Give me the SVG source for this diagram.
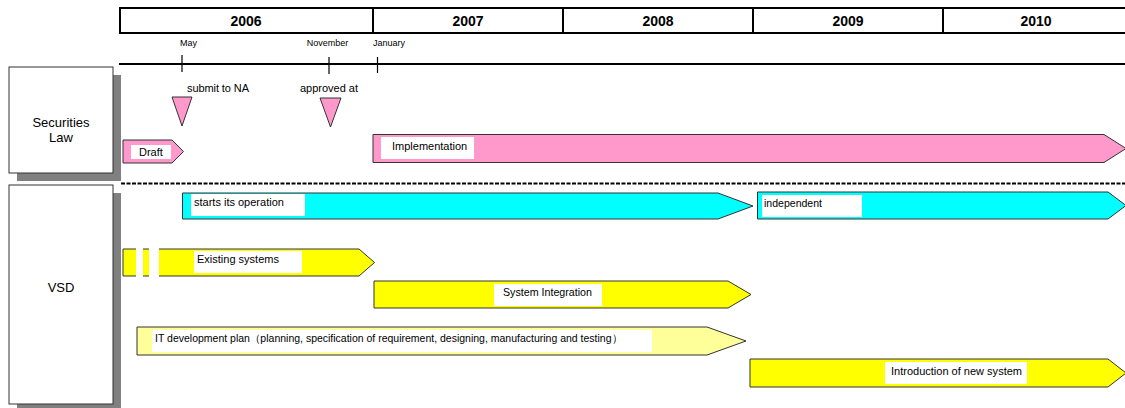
<svg xmlns="http://www.w3.org/2000/svg" width="1125" height="408" viewBox="0 0 1125 408">
<style>
text{font-family:"Liberation Sans",Arial,sans-serif;fill:#000}
.yr{font-size:14px;font-weight:bold;text-anchor:middle}
.mo{font-size:9px}
.lb{font-size:11px}
.bar{stroke:#333;stroke-width:1}
.pink{fill:#ff99cc}
.cyan{fill:#00ffff}
.yel{fill:#ffff00}
.lyel{fill:#ffff99}
.wb{fill:#fff}
.side{fill:#fff;stroke:#333;stroke-width:1}
.shadow{fill:#808080}
.tick{stroke:#000;stroke-width:1.2}
</style>
<rect width="1125" height="408" fill="#fff"/>
<g id="header">
<rect x="120" y="8" width="1012" height="25" fill="#fff" stroke="#000" stroke-width="2"/>
<line x1="373" y1="8" x2="373" y2="33" stroke="#000" stroke-width="2"/>
<line x1="563" y1="8" x2="563" y2="33" stroke="#000" stroke-width="2"/>
<line x1="753" y1="8" x2="753" y2="33" stroke="#000" stroke-width="2"/>
<line x1="943" y1="8" x2="943" y2="33" stroke="#000" stroke-width="2"/>
<text class="yr" x="246" y="26">2006</text>
<text class="yr" x="468" y="26">2007</text>
<text class="yr" x="658" y="26">2008</text>
<text class="yr" x="848" y="26">2009</text>
<text class="yr" x="1036" y="26">2010</text>
</g>
<g id="timeline">
<line x1="119" y1="64" x2="1125" y2="64" stroke="#000" stroke-width="2"/>
<line class="tick" x1="182" y1="55" x2="182" y2="72"/>
<line class="tick" x1="329" y1="57" x2="329" y2="74"/>
<line class="tick" x1="377.5" y1="57" x2="377.5" y2="73"/>
<text class="mo" x="188.5" y="46" text-anchor="middle">May</text>
<text class="mo" x="327.5" y="46" text-anchor="middle">November</text>
<text class="mo" x="373" y="46">January</text>
</g>
<g id="securities-law">
<rect class="shadow" x="17" y="75" width="104" height="106"/>
<rect class="side" x="9" y="67" width="104" height="106"/>
<text x="61" y="127" font-size="13" text-anchor="middle">Securities</text>
<text x="61" y="142" font-size="13" text-anchor="middle">Law</text>
</g>
<g id="vsd">
<rect class="shadow" x="17" y="193" width="104" height="215"/>
<rect class="side" x="9" y="185" width="104" height="219"/>
<text x="61" y="292" font-size="13" text-anchor="middle">VSD</text>
</g>
<g id="connectors">
<line x1="121" y1="183.5" x2="1125" y2="183.5" stroke="#000" stroke-width="2" stroke-dasharray="4 1.5"/>
</g>
<g id="submit-to-na">
<polygon class="bar pink" points="172,97 192,97 182,126"/>
<text class="lb" x="187" y="92" textLength="62" lengthAdjust="spacing">submit to NA</text>
</g>
<g id="approved-at">
<polygon class="bar pink" points="320,98 341,98 330.5,127"/>
<text class="lb" x="329" y="92" text-anchor="middle">approved at</text>
</g>
<g id="draft">
<polygon class="bar pink" points="123,140 172,140 183.5,151.5 172,163 123,163"/>
<rect class="wb" x="131" y="145" width="40" height="14"/>
<text class="lb" x="139" y="156">Draft</text>
</g>
<g id="implementation">
<polygon class="bar pink" points="373,134.5 1104,134.5 1126,148.5 1104,162.5 373,162.5"/>
<rect class="wb" x="381" y="137" width="93" height="22"/>
<text class="lb" x="392" y="150">Implementation</text>
</g>
<g id="starts-operation">
<polygon class="bar cyan" points="182.5,193 718,193 753,206 718,219 182.5,219"/>
<rect class="wb" x="191" y="194" width="114" height="22"/>
<text class="lb" x="194" y="206">starts its operation</text>
</g>
<g id="independent">
<polygon class="bar cyan" points="757.5,192 1108,192 1126,205.5 1108,219 757.5,219"/>
<rect class="wb" x="762" y="195" width="100" height="22"/>
<text class="lb" x="764" y="207" textLength="58" lengthAdjust="spacingAndGlyphs">independent</text>
</g>
<g id="existing-systems">
<polygon class="bar yel" points="123,249 359,249 374.5,262.5 359,276 123,276"/>
<rect class="wb" x="136" y="247" width="7" height="31"/>
<rect class="wb" x="149" y="247" width="10" height="31"/>
<rect class="wb" x="194" y="251" width="108" height="22"/>
<text class="lb" x="197" y="263">Existing systems</text>
</g>
<g id="system-integration">
<polygon class="bar yel" points="374,281 728,281 751,294.5 728,308 374,308"/>
<rect class="wb" x="494" y="284" width="108" height="22"/>
<text class="lb" x="503" y="296" textLength="89" lengthAdjust="spacingAndGlyphs">System Integration</text>
</g>
<g id="it-development-plan">
<polygon class="bar lyel" points="137,327 707,327 746,341 707,355 137,355"/>
<rect class="wb" x="152" y="330" width="500" height="22"/>
<text class="lb" x="155" y="342" textLength="467" lengthAdjust="spacingAndGlyphs">IT development plan（planning, specification of requirement, designing, manufacturing and testing）</text>
</g>
<g id="new-system">
<polygon class="bar yel" points="750,359 1108,359 1126,373 1108,387 750,387"/>
<rect class="wb" x="885" y="362" width="142" height="22"/>
<text class="lb" x="891" y="375" textLength="131" lengthAdjust="spacingAndGlyphs">Introduction of new system</text>
</g>
</svg>
